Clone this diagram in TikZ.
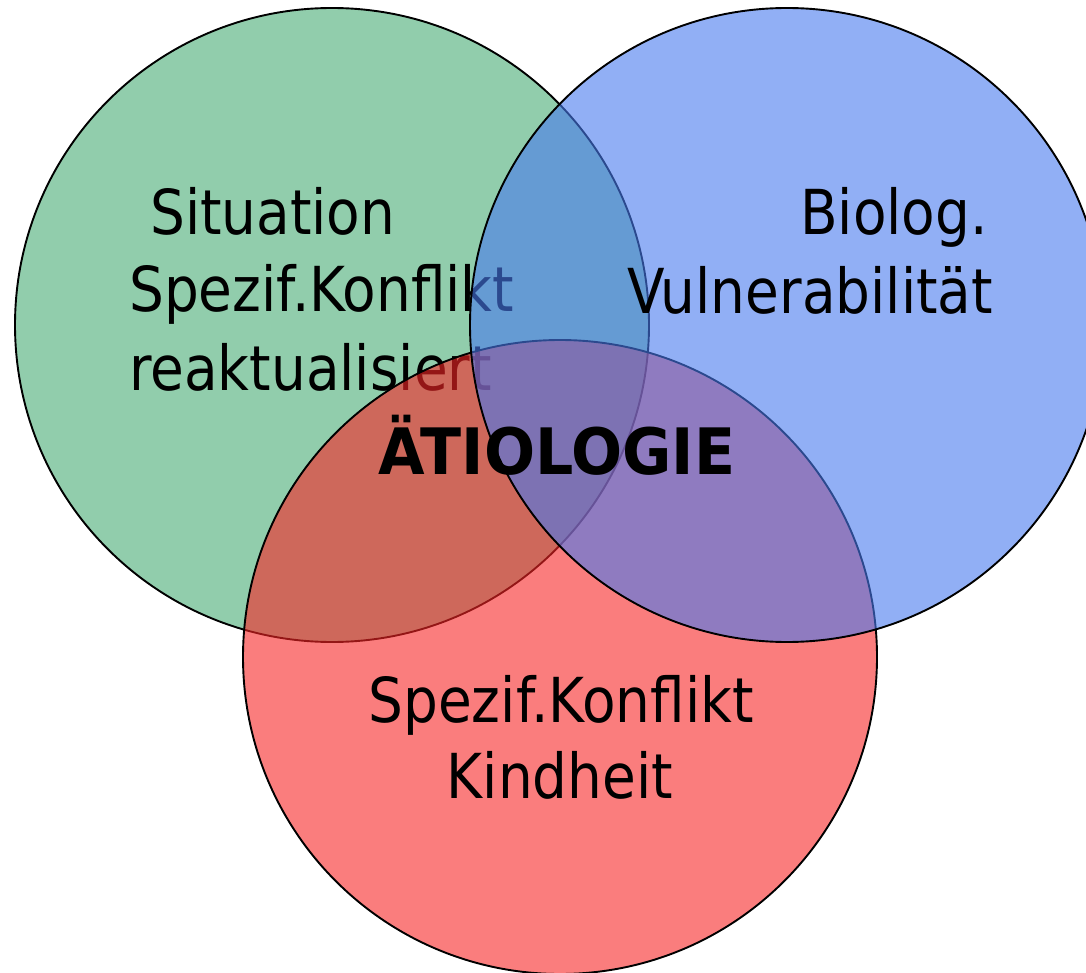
\documentclass[tikz,border=0pt]{standalone}
\usepackage{fontspec}
\newfontfamily\regfont[FakeStretch=0.885]{DejaVu Sans}
\newfontfamily\boldfont[FakeStretch=0.94]{DejaVu Sans Bold}
\definecolor{cgreen}{RGB}{145,205,172}
\definecolor{cblue}{RGB}{72,122,238}
\definecolor{cred}{RGB}{247,38,38}
\begin{document}
\begin{tikzpicture}[x=1pt,y=-1pt,
  ring/.style={circle,draw=black,line width=1.9pt,minimum size=634pt,inner sep=0pt},
  lbl/.style={inner sep=0pt,font=\regfont\fontsize{62}{72}\selectfont,text=black},
  title/.style={inner sep=0pt,font=\boldfont\fontsize{64}{72}\selectfont,text=black}]
\useasboundingbox (0,0) rectangle (1086,973);
\clip (0,0) rectangle (1086,973);
% green circle and its text
\node[ring,fill=cgreen] (g) at (332,325) {};
\node[lbl,anchor=base west] (g1) at (150,235) {Situation};
\node[lbl,anchor=base west] (g2) at (129,312) {Spezif.Konflikt};
\node[lbl,anchor=base west] (g3) at (129,390) {reaktualisiert};
% red circle
\node[ring,fill=cred,fill opacity=0.6] (r) at (560,657) {};
\node[lbl,anchor=base] (r1) at (561,722) {Spezif.Konflikt};
\node[lbl,anchor=base] (r2) at (560,798) {Kindheit};
% blue circle
\node[ring,fill=cblue,fill opacity=0.6] (b) at (787,325) {};
\node[lbl,anchor=base east] (b1) at (988,235) {Biolog.};
\node[lbl,anchor=base east] (b2) at (993,313) {Vulnerabilität};
% title
\node[title,anchor=base] (t) at (557,474) {ÄTIOLOGIE};
\end{tikzpicture}
\end{document}
